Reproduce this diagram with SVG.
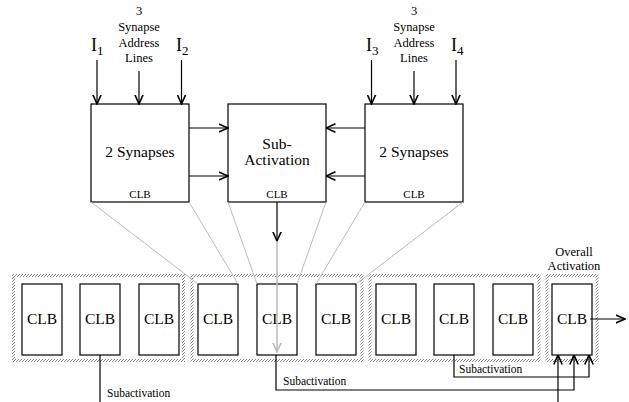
<svg xmlns="http://www.w3.org/2000/svg" width="629" height="402" viewBox="0 0 629 402">
<defs>
<style>
text{font-family:'Liberation Serif','Times New Roman','DejaVu Serif',serif;fill:#000}
.box{fill:#fff;stroke:#000;stroke-width:1.2}
.grp{fill:none;stroke:url(#hatch);stroke-width:3}
.ln{fill:none;stroke:#000;stroke-width:1.2}
.gl{fill:none;stroke:#bbb;stroke-width:1}
.big{font-size:15.5px;text-anchor:middle}
.clbs{font-size:11px;text-anchor:middle}
.sm{font-size:12.5px;text-anchor:middle}
.lab{font-size:11.5px}
.inp{font-size:18px}
.sub{font-size:13px}
</style>
<pattern id="hatch" patternUnits="userSpaceOnUse" width="3" height="3">
<path d="M-0.5,3.5 L3.5,-0.5" stroke="#555" stroke-width="0.7"/>
</pattern>
<marker id="ah" viewBox="0 0 10 10" refX="9.5" refY="5" markerWidth="10" markerHeight="10" markerUnits="userSpaceOnUse" orient="auto">
<path d="M0,0.8 L9.5,5 L0,9.2" fill="none" stroke="#000" stroke-width="1.6"/>
</marker>
<marker id="ahg" viewBox="0 0 10 10" refX="9.5" refY="5" markerWidth="10" markerHeight="10" markerUnits="userSpaceOnUse" orient="auto">
<path d="M0,0.8 L9.5,5 L0,9.2" fill="none" stroke="#bbb" stroke-width="1.6"/>
</marker>
</defs>

<g font-family="Liberation Serif, Times New Roman, serif">
<g id="group1"><rect class="grp" x="13.5" y="275.5" width="170" height="85"/></g>
<g id="group2"><rect class="grp" x="192" y="275.5" width="170" height="85"/></g>
<g id="group3"><rect class="grp" x="370" y="275.5" width="169" height="85"/></g>
<g id="group4"><rect class="grp" x="547" y="275.5" width="50" height="85"/>
<text class="sm" x="574" y="256">Overall</text>
<text class="sm" x="574" y="270">Activation</text></g>

<g id="clb1"><rect class="box" x="22" y="284" width="40" height="71"/><text class="big" x="42" y="324">CLB</text></g>
<g id="clb2"><rect class="box" x="80" y="284" width="40" height="71"/><text class="big" x="100" y="324">CLB</text></g>
<g id="clb3"><rect class="box" x="139" y="284" width="40" height="71"/><text class="big" x="159" y="324">CLB</text></g>
<g id="clb4"><rect class="box" x="198" y="284" width="40" height="71"/><text class="big" x="218" y="324">CLB</text></g>
<g id="clb5"><rect class="box" x="257" y="284" width="40" height="71"/><text class="big" x="277" y="324">CLB</text></g>
<g id="clb6"><rect class="box" x="316" y="284" width="40" height="71"/><text class="big" x="336" y="324">CLB</text></g>
<g id="clb7"><rect class="box" x="376" y="284" width="40" height="71"/><text class="big" x="396" y="324">CLB</text></g>
<g id="clb8"><rect class="box" x="434" y="284" width="40" height="71"/><text class="big" x="454" y="324">CLB</text></g>
<g id="clb9"><rect class="box" x="493" y="284" width="40" height="71"/><text class="big" x="513" y="324">CLB</text></g>
<g id="clb10"><rect class="box" x="552" y="284" width="40" height="71"/><text class="big" x="572" y="324">CLB</text></g>

<g id="syn1"><rect class="box" x="91" y="104" width="98" height="98"/>
<text class="big" x="140" y="157">2 Synapses</text>
<text class="clbs" x="140" y="198">CLB</text></g>
<g id="subact"><rect class="box" x="228" y="104" width="98" height="98"/>
<text class="big" x="277" y="149">Sub-</text>
<text class="big" x="277" y="165">Activation</text>
<text class="clbs" x="277" y="198">CLB</text></g>
<g id="syn2"><rect class="box" x="365" y="104" width="98" height="98"/>
<text class="big" x="414" y="157">2 Synapses</text>
<text class="clbs" x="414" y="198">CLB</text></g>

<g id="inputs">
<text class="inp" x="91" y="51">I<tspan class="sub" dy="4">1</tspan></text>
<text class="inp" x="176" y="51">I<tspan class="sub" dy="4">2</tspan></text>
<text class="inp" x="366" y="51">I<tspan class="sub" dy="4">3</tspan></text>
<text class="inp" x="451" y="51">I<tspan class="sub" dy="4">4</tspan></text>
<text class="sm" x="139" y="15">3</text>
<text class="sm" x="139" y="31">Synapse</text>
<text class="sm" x="139" y="46.5">Address</text>
<text class="sm" x="139" y="62">Lines</text>
<text class="sm" x="414" y="15">3</text>
<text class="sm" x="414" y="31">Synapse</text>
<text class="sm" x="414" y="46.5">Address</text>
<text class="sm" x="414" y="62">Lines</text>
</g>

<g id="connectors">
<line class="gl" x1="91" y1="202" x2="198" y2="284"/>
<line class="gl" x1="189" y1="202" x2="238" y2="284"/>
<line class="gl" x1="228" y1="202" x2="257" y2="284"/>
<line class="gl" x1="326" y1="202" x2="297" y2="284"/>
<line class="gl" x1="365" y1="202" x2="316" y2="284"/>
<line class="gl" x1="463" y1="202" x2="356" y2="284"/>
<line class="ln" x1="97" y1="60" x2="97" y2="104" marker-end="url(#ah)"/>
<line class="ln" x1="139" y1="71" x2="139" y2="104" marker-end="url(#ah)"/>
<line class="ln" x1="181.5" y1="60" x2="181.5" y2="104" marker-end="url(#ah)"/>
<line class="ln" x1="371.5" y1="60" x2="371.5" y2="104" marker-end="url(#ah)"/>
<line class="ln" x1="414" y1="71" x2="414" y2="104" marker-end="url(#ah)"/>
<line class="ln" x1="456" y1="60" x2="456" y2="104" marker-end="url(#ah)"/>
<line class="ln" x1="189" y1="128" x2="228" y2="128" marker-end="url(#ah)"/>
<line class="ln" x1="189" y1="176" x2="228" y2="176" marker-end="url(#ah)"/>
<line class="ln" x1="365" y1="128" x2="326" y2="128" marker-end="url(#ah)"/>
<line class="ln" x1="365" y1="176" x2="326" y2="176" marker-end="url(#ah)"/>
<line class="ln" x1="277" y1="202" x2="277" y2="241" marker-end="url(#ah)"/>
<line x1="277" y1="241" x2="277" y2="352" stroke="#bbb" stroke-width="1.5" marker-end="url(#ahg)"/>
<line class="ln" x1="100" y1="355" x2="100" y2="402"/>
<polyline class="ln" points="276,355 276,390 574,390 574,355" marker-end="url(#ah)"/>
<polyline class="ln" points="454,355 454,377 589,377 589,355" marker-end="url(#ah)"/>
<line class="ln" x1="558" y1="402" x2="558" y2="355" marker-end="url(#ah)"/>
<line class="ln" x1="590" y1="319" x2="625" y2="319" marker-end="url(#ah)"/>
<text class="lab" x="107" y="397">Subactivation</text>
<text class="lab" x="283" y="385">Subactivation</text>
<text class="lab" x="459" y="373">Subactivation</text>
</g>
</g>
</svg>
